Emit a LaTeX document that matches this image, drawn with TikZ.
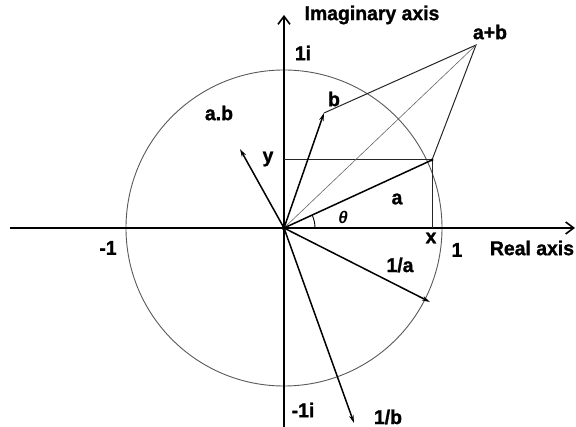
\documentclass[tikz,border=0pt]{standalone}
\usepackage{fontspec}
\setmainfont{Liberation Sans}
\newfontfamily\lblfont{Liberation Sans Bold}[FakeStretch=0.97,FakeBold=1.2]
\newfontfamily\thfont{Liberation Sans Bold Italic}
\usetikzlibrary{arrows.meta}
\begin{document}
\begin{tikzpicture}[x=1pt,y=1pt,
  lbl/.style={font=\lblfont\fontsize{20}{20}\selectfont, inner sep=0pt},
  axisline/.style={line width=1.8pt, -{Straight Barb[length=8pt,width=12pt,line width=1.6pt]}},
  vec/.style={line width=1.5pt, -{Stealth[length=8pt,width=4.5pt]}},
  side/.style={line width=1pt, black!85},
  faint/.style={line width=0.6pt, black!60},
  circ/.style={line width=0.9pt, black!65}]
\useasboundingbox (-284,-199) rectangle (292,228);
% points
\coordinate (O) at (0,0);
\coordinate (A) at (148,68);
\coordinate (B) at (40,115);
\coordinate (AB) at (192,183);
\coordinate (P) at (-44,79);
\coordinate (IA) at (146,-74);
\coordinate (IB) at (70,-195);
\coordinate (Y) at (0,68);
\coordinate (X) at (148,0);
\coordinate (Rl) at (-274,0);
\coordinate (Rr) at (291,0);
\coordinate (Ib) at (0,-199);
\coordinate (It) at (0,213);
% circle
\draw[circ] (O) circle[radius=158];
% axes
\draw[axisline] (Rl) -- (Rr);
\draw[axisline] (Ib) -- (It);
% projections
\draw[side] (Y) -- (A) -- (X);
% parallelogram sides
\draw[side] (B) -- (AB) -- (A);
\draw[faint] (O) -- (AB);
% vector a
\draw[line width=1.5pt] (O) -- (A);
\fill (A) circle[radius=1.7];
\fill (O) circle[radius=2.2];
% vectors
\draw[vec] (O) -- (B);
\draw[vec] (O) -- (P);
\draw[vec] (O) -- (IA);
\draw[vec] (O) -- (IB);
% angle
\draw[line width=0.9pt] (31,0) arc[start angle=0, end angle=24.7, radius=31];
% labels
\node[lbl] (lImag) at (88,213) {Imaginary axis};
\node[lbl] (l1i) at (19,175) {1i};
\node[lbl] (lb) at (50,129) {b};
\node[lbl] (lab) at (-65,115) {a.b};
\node[lbl] (ly) at (-16,69) {y};
\node[lbl] (la) at (113,29) {a};
\node[inner sep=0pt, font=\thfont\fontsize{17}{17}\selectfont] (lth) at (59,11) {θ};
\node[lbl] (lx) at (147,-10) {x};
\node[lbl] (l1) at (173,-22) {1};
\node[lbl] (lReal) at (248,-20) {Real axis};
\node[lbl] (lm1) at (-176,-20) {-1};
\node[lbl] (lia) at (116,-37) {1/a};
\node[lbl] (lm1i) at (19,-182) {-1i};
\node[lbl] (lib) at (104,-189) {1/b};
\node[lbl] (lsum) at (206,196) {a+b};
\end{tikzpicture}
\end{document}
